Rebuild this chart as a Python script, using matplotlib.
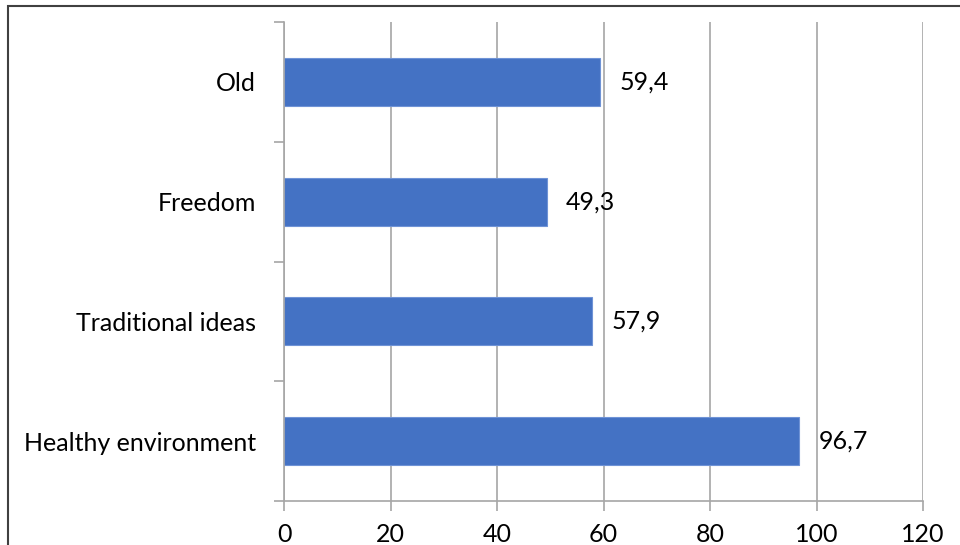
import matplotlib.pyplot as plt
import numpy as np
from matplotlib.patches import Rectangle

# Data
categories = ["Healthy environment", "Traditional ideas", "Freedom", "Old"]
values = [96.7, 57.9, 49.3, 59.4]
x_ticks = [0, 20, 40, 60, 80, 100, 120]

plt.rcParams['font.family'] = ['Lato', 'DejaVu Sans']
FS = 18

fig = plt.figure(figsize=(9.6, 5.45), dpi=100)
ax = fig.add_axes([284/960, 1 - 501/545, (923 - 284)/960, (501 - 22)/545])

y = np.arange(len(categories))
ax.barh(y, values, height=0.4, color='#4472C4', edgecolor='#6f93d6',
        linewidth=0.8, zorder=3)

# data labels
for yi, v in zip(y, values):
    ax.annotate(f"{v:.1f}".replace('.', ','), (v, yi), xytext=(14, 0),
                textcoords='offset points', va='center', ha='left',
                fontsize=FS, zorder=4)

ax.set_xlim(0, 120)
ax.set_ylim(-0.5, len(categories) - 0.5)
ax.set_xticks(x_ticks)
ax.set_xticklabels([str(t) for t in x_ticks], fontsize=FS)
ax.xaxis.grid(True, color='#a6a6a6', linewidth=1.2, zorder=0)

# category labels, tick marks at band boundaries
ax.set_yticks(y)
ax.set_yticklabels(categories, fontsize=FS)
ax.set_yticks(np.arange(-0.5, len(categories), 1), minor=True)
ax.tick_params(axis='y', which='major', length=0, pad=20)
ax.tick_params(axis='y', which='minor', length=7, color='#a6a6a6', width=1.2)
ax.tick_params(axis='x', length=7, color='#a6a6a6', width=1.2, pad=9)

for s in ['top', 'right']:
    ax.spines[s].set_visible(False)
for s in ['left', 'bottom']:
    ax.spines[s].set_color('#a6a6a6')
    ax.spines[s].set_linewidth(1.2)
    ax.spines[s].set_zorder(5)

# outer chart frame
fig.patches.append(Rectangle((8/960, -0.1), 1.1, 1.1 - 6/545,
                             transform=fig.transFigure, fill=False,
                             edgecolor='#404040', linewidth=1.5))

fig.savefig('out.png', dpi=100)
